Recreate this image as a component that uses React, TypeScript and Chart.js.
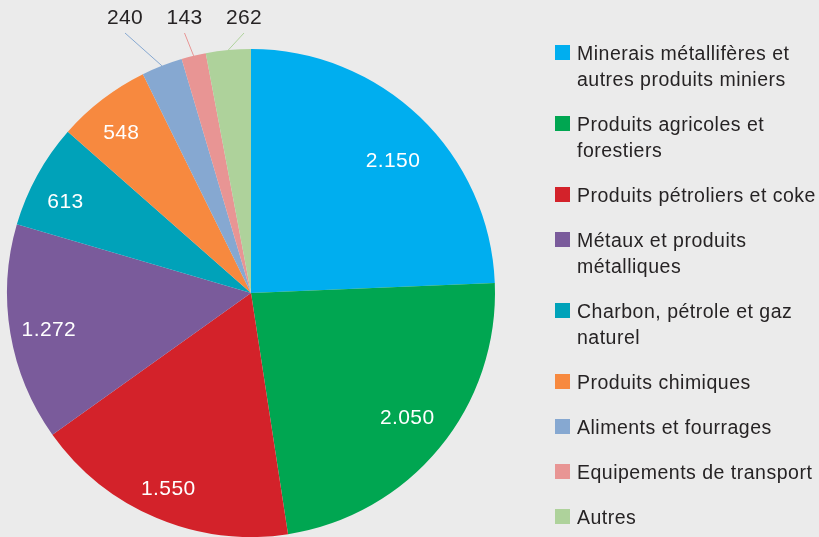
import React, { useEffect, useRef } from "react";
import { Chart, registerables } from "chart.js";

Chart.register(...registerables);

const categories: string[][] = [
  ["Minerais métallifères et", "autres produits miniers"],
  ["Produits agricoles et", "forestiers"],
  ["Produits pétroliers et coke"],
  ["Métaux et produits", "métalliques"],
  ["Charbon, pétrole et gaz", "naturel"],
  ["Produits chimiques"],
  ["Aliments et fourrages"],
  ["Equipements de transport"],
  ["Autres"],
];

const values: number[] = [2150, 2050, 1550, 1272, 613, 548, 240, 143, 262];

const colors: string[] = [
  "#00aeef",
  "#00a651",
  "#d3222a",
  "#7a5b9b",
  "#00a2b9",
  "#f7893f",
  "#86a8d1",
  "#e89594",
  "#aed29b",
];

const FONT = '"Liberation Sans", Arial, Helvetica, sans-serif';
const TEXT_COLOR = "#262324";

function formatValue(v: number): string {
  const s = String(Math.round(v));
  return s.replace(/\B(?=(\d{3})+(?!\d))/g, ".");
}

// small visual nudges for inner value labels (placement style only)
const innerNudge: [number, number][] = [
  [0, 15],
  [-2, -6],
  [-3, 6],
  [0, 2],
  [-6, 7],
  [-5, 2],
];

const labelsPlugin = {
  id: "customLabels",
  afterDatasetsDraw(chart: any) {
    const ctx: CanvasRenderingContext2D = chart.ctx;
    const meta = chart.getDatasetMeta(0);
    const data = chart.data.datasets[0].data as number[];
    ctx.save();
    ctx.font = `21px ${FONT}`;
    (ctx as any).letterSpacing = "0.4px";
    ctx.textAlign = "center";
    ctx.textBaseline = "middle";
    const outer: number[] = [];
    meta.data.forEach((arc: any, i: number) => {
      const { startAngle, endAngle } = arc.getProps(["startAngle", "endAngle"], true);
      if (endAngle - startAngle < 0.2) outer.push(i);
    });
    meta.data.forEach((arc: any, i: number) => {
      const { x, y, startAngle, endAngle, outerRadius } = arc.getProps(
        ["x", "y", "startAngle", "endAngle", "outerRadius"],
        true
      );
      const mid = (startAngle + endAngle) / 2;
      const k = outer.indexOf(i);
      if (k < 0) {
        const r = outerRadius * 0.84;
        const n = innerNudge[i] || [0, 0];
        ctx.fillStyle = "#ffffff";
        ctx.fillText(
          formatValue(data[i]),
          x + Math.cos(mid) * r + n[0],
          y + Math.sin(mid) * r + n[1] + 1
        );
      } else {
        const ex = x + Math.cos(mid) * outerRadius;
        const ey = y + Math.sin(mid) * outerRadius;
        const ax = x - 7 - (outer.length - 1 - k) * 59.5;
        const ay = y - outerRadius - 16;
        ctx.strokeStyle = colors[i];
        ctx.lineWidth = 1;
        ctx.beginPath();
        ctx.moveTo(ex, ey);
        ctx.lineTo(ax, ay);
        ctx.stroke();
        ctx.fillStyle = TEXT_COLOR;
        ctx.fillText(formatValue(data[i]), ax, ay - 15);
      }
    });
    // legend
    ctx.font = `19.5px ${FONT}`;
    (ctx as any).letterSpacing = "0.5px";
    ctx.textAlign = "left";
    ctx.textBaseline = "alphabetic";
    let base = 60;
    categories.forEach((lines, i) => {
      ctx.fillStyle = colors[i];
      ctx.fillRect(555, base - 15, 15, 15);
      ctx.fillStyle = TEXT_COLOR;
      lines.forEach((line, j) => {
        ctx.fillText(line, 577, base + j * 26);
      });
      base += lines.length * 26 + 19;
    });
    ctx.restore();
  },
};

export default function App() {
  const ref = useRef<HTMLCanvasElement | null>(null);
  useEffect(() => {
    document.body.style.margin = "0";
    if (!ref.current) return;
    const chart = new Chart(ref.current, {
      type: "pie",
      data: {
        labels: categories.map((l) => l.join(" ")),
        datasets: [
          {
            data: values,
            backgroundColor: colors,
            borderWidth: 0,
          },
        ],
      },
      options: {
        animation: false,
        responsive: false,
        maintainAspectRatio: false,
        layout: { padding: { left: 7, right: 324, top: 49, bottom: 0 } },
        plugins: {
          legend: { display: false },
          tooltip: { enabled: false },
        },
      },
      plugins: [labelsPlugin],
    });
    return () => chart.destroy();
  }, []);
  return (
    <div style={{ width: 819, height: 537, background: "#ebebeb", position: "relative" }}>
      <canvas ref={ref} width={819} height={537} style={{ display: "block" }} />
    </div>
  );
}
